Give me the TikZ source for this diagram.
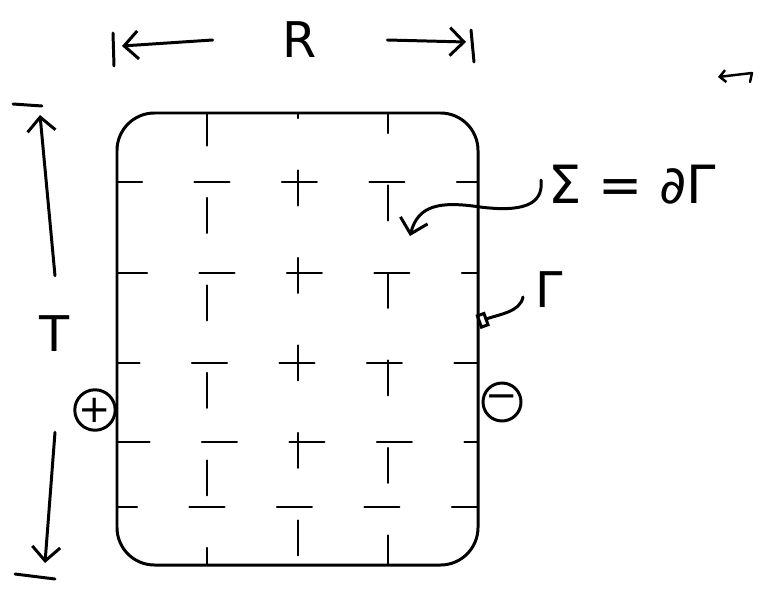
\documentclass[tikz,border=0pt]{standalone}
\usepackage{fontspec}
\newfontfamily\sketchfont{DejaVu Sans}
\usepackage{tikz}
\usetikzlibrary{arrows.meta}

\begin{document}
\begin{tikzpicture}[
  x=0.02cm, y=-0.02cm,
  >={Straight Barb[length=2.8mm,width=5.6mm]},
  pen/.style={line width=1.7pt, line cap=round, line join=round},
  gridline/.style={line width=1.2pt, line cap=round, dash pattern=on 0.7cm off 1.05cm},
  bigtext/.style={font=\sketchfont\fontsize{28}{34}\selectfont, inner sep=0pt},
  sign/.style={pen, draw, circle, inner sep=0pt, minimum size=0.7cm,
               font=\sketchfont\fontsize{22}{26}\selectfont},
]
  \useasboundingbox (0,0) rectangle (760,595);

  % the region Gamma with its grid of cells
  \draw[pen, rounded corners=0.75cm] (117,113) rectangle (478,565);
  \foreach \gx/\ph in {207/0.05, 298/0.6, 388/0.3}
    \draw[gridline, dash phase=\ph cm] (\gx,113) -- (\gx,565);
  \foreach \gy/\ph in {182/0.2, 273/0.1, 363/0.25, 442/0.05, 507/0.3}
    \draw[gridline, dash phase=\ph cm] (117,\gy) -- (478,\gy);

  % width R
  \node[bigtext] (lenR) at (300,40) {R};
  \coordinate (Rleft) at (122,46);
  \coordinate (Rright) at (466,42);
  \draw[pen, ->] ([xshift=-1.4cm]lenR.west) -- (Rleft);
  \draw[pen, ->] ([xshift=1.4cm]lenR.east) -- (Rright);
  \draw[pen] (113,33) -- (114,66);
  \draw[pen] (471,30) -- (474,62);

  % height T
  \node[bigtext] (lenT) at (55,334) {T};
  \coordinate (Ttop) at (40,115);
  \coordinate (Tbot) at (45,563);
  \draw[pen, ->] ([yshift=0.8cm]lenT.north) -- (Ttop);
  \draw[pen, ->] ([yshift=-1.6cm]lenT.south) -- (Tbot);
  \draw[pen] (13,104) -- (42,106);
  \draw[pen] (15,574) -- (55,579);

  % boundary label
  \node[bigtext, font=\sketchfont\fontsize{30}{36}\selectfont] (sig) at (632,185)
       {Σ = ∂Γ};
  \coordinate (sigtip) at (410,236);
  \draw[pen, ->] (541,180) .. controls (544,206) and (520,212) .. (480,207)
                 .. controls (440,201) and (418,205) .. (sigtip);

  % region label
  \node[bigtext] (gam) at (549,290) {Γ};
  \coordinate (gamtip) at (478,322);
  \draw[pen, -{Square[open, length=2mm, width=3mm]}]
       (523,297) .. controls (520,312) and (500,314) .. (gamtip);

  % terminals
  \node[sign] (plus) at (95,410) {+};
  \node[sign, minimum height=0.76cm] (minus) at (502,402) {−};

  % small mark top right
  \draw[pen, line width=1.4pt, {Straight Barb[length=1.2mm,width=2.4mm]}-]
       (718,77) -- (752,73) -- (750,82);
\end{tikzpicture}
\end{document}
